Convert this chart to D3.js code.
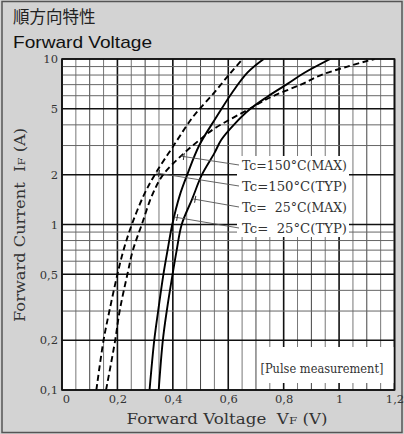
<!DOCTYPE html>
<html><head><meta charset="utf-8">
<script src="https://cdn.jsdelivr.net/npm/d3@7"></script>
<style>
html,body{margin:0;padding:0;background:#d3d3d3;}
svg{display:block;}
</style></head><body>
<svg id="c" width="404" height="434"></svg>
<script>
// ---- data ----
const xTickValues = [0, 0.2, 0.4, 0.6, 0.8, 1, 1.2];
const xTickLabels = ["0", "0,2", "0,4", "0,6", "0,8", "1", "1,2"];
const yTickValues = [0.1, 0.2, 0.5, 1, 2, 5, 10];
const yTickLabels = ["0,1", "0,2", "0,5", "1", "2", "5", "10"];

const seriesNames = ["Tc=150°C(MAX)", "Tc=150°C(TYP)", "Tc=  25°C(MAX)", "Tc=  25°C(TYP)"];
const seriesDashed = [true, true, false, false];

const i150max = [0.1, 0.2, 0.3, 0.5, 0.7, 1, 1.5, 2, 2.6, 3.25, 3.8, 4.95, 5.93, 7, 8, 9, 10];
const v150max = [0.159, 0.192, 0.208, 0.236, 0.256, 0.288, 0.325, 0.365, 0.43, 0.497, 0.55, 0.672, 0.758, 0.862, 0.935, 1.03, 1.128];

const i150typ = [0.1, 0.2, 0.3, 0.5, 0.7, 1, 1.5, 2, 3, 4.5, 6.2, 8.2, 10];
const v150typ = [0.124, 0.150, 0.171, 0.200, 0.222, 0.252, 0.295, 0.335, 0.403, 0.474, 0.547, 0.607, 0.652];

const i25max = [0.1, 0.2, 0.3, 0.5, 0.7, 1, 1.43, 2, 2.7, 3.25, 4, 5, 5.9, 7.1, 8.2, 10];
const v25max = [0.349, 0.364, 0.378, 0.399, 0.414, 0.432, 0.47, 0.505, 0.55, 0.575, 0.62, 0.68, 0.74, 0.815, 0.872, 0.968];

const i25typ = [0.1, 0.2, 0.3, 0.5, 0.7, 1, 1.5, 2, 3, 4.4, 6.3, 8.3, 10];
const v25typ = [0.316, 0.333, 0.347, 0.366, 0.381, 0.398, 0.425, 0.452, 0.495, 0.555, 0.615, 0.67, 0.728];

const seriesCurrents = [i150max, i150typ, i25max, i25typ];
const seriesVoltages = [v150max, v150typ, v25max, v25typ];
const pointerCurrents = [2.59, 2.05, 1.43, 1.11];

// ---- layout ----
const svg = d3.select("#c");
const X0 = 62, X1 = 394.5, Y0 = 59, Y1 = 390;
const x = d3.scaleLinear().domain([0, 1.2]).range([X0, X1]);
const y = d3.scaleLog().domain([0.1, 10]).range([Y1, Y0]);
const serif = "'DejaVu Serif', serif";

svg.append("rect").attr("x", 2).attr("y", 1.5).attr("width", 400).attr("height", 431)
  .attr("fill", "#d3d3d3").attr("stroke", "#555").attr("stroke-width", 1.5);

// titles
svg.append("text").attr("x", 13).attr("y", 23).text("順方向特性")
  .attr("font-family", "'Noto Sans CJK JP', sans-serif").attr("font-size", 16.5).attr("fill", "#222");
svg.append("text").attr("x", 13).attr("y", 48).text("Forward Voltage")
  .attr("font-family", "'Liberation Sans', Arial, sans-serif").attr("font-size", 17)
  .attr("textLength", 139).attr("lengthAdjust", "spacingAndGlyphs").attr("fill", "#111");

// plot background
svg.append("rect").attr("x", X0).attr("y", Y0).attr("width", X1 - X0).attr("height", Y1 - Y0).attr("fill", "#fff");

const grid = svg.append("g");
// vertical grid
d3.range(0, 25).forEach(k => {
  const v = k * 0.05;
  const major = k % 4 === 0, mid = k % 2 === 0;
  grid.append("line").attr("x1", x(v)).attr("x2", x(v)).attr("y1", Y0).attr("y2", Y1)
    .attr("stroke", major ? "#111" : (mid ? "#444" : "#777"))
    .attr("stroke-width", major ? 1.6 : 1);
});
// horizontal grid
const hVals = [];
[0.1, 1].forEach(d => { for (let k = 1; k <= 9; k++) hVals.push(d * k); });
hVals.push(10);
hVals.forEach(v => {
  const major = yTickValues.some(t => Math.abs(t - v) < 1e-9);
  grid.append("line").attr("x1", X0).attr("x2", X1).attr("y1", y(v)).attr("y2", y(v))
    .attr("stroke", major ? "#111" : "#666").attr("stroke-width", major ? 1.6 : 1);
});

// white label backgrounds
svg.append("rect").attr("x", 237).attr("y", 156).attr("width", 112).attr("height", 81).attr("fill", "#fff");
svg.append("rect").attr("x", 258).attr("y", 347).attr("width", X1 - 258).attr("height", 36).attr("fill", "#fff");

// curves
const clip = svg.append("clipPath").attr("id", "pc").append("rect")
  .attr("x", X0).attr("y", Y0).attr("width", X1 - X0).attr("height", Y1 - Y0);
const line = d3.line().x(d => x(d[0])).y(d => y(d[1])).curve(d3.curveCatmullRom.alpha(0.5));
const curves = svg.append("g").attr("clip-path", "url(#pc)");
seriesNames.forEach((n, i) => {
  const pts = seriesVoltages[i].map((v, j) => [v, seriesCurrents[i][j]]);
  curves.append("path").attr("d", line(pts)).attr("fill", "none").attr("stroke", "#000")
    .attr("stroke-width", 1.9).attr("stroke-dasharray", seriesDashed[i] ? "6,3.5" : null);
});

// plot frame
svg.append("rect").attr("x", X0).attr("y", Y0).attr("width", X1 - X0).attr("height", Y1 - Y0)
  .attr("fill", "none").attr("stroke", "#111").attr("stroke-width", 1.6);

// legend labels with pointers
const labelY = [166, 187, 208, 229];
function vAt(i, cur) {
  const I = seriesCurrents[i], V = seriesVoltages[i];
  for (let j = 0; j < I.length - 1; j++) {
    if (cur >= I[j] && cur <= I[j + 1]) {
      const t = (Math.log(cur) - Math.log(I[j])) / (Math.log(I[j + 1]) - Math.log(I[j]));
      return V[j] + t * (V[j + 1] - V[j]);
    }
  }
  return V[V.length - 1];
}
seriesNames.forEach((n, i) => {
  const px = x(vAt(i, pointerCurrents[i])), py = y(pointerCurrents[i]);
  const ex = 239, ey = labelY[i] - 1;
  svg.append("line").attr("x1", px).attr("y1", py).attr("x2", ex).attr("y2", ey)
    .attr("stroke", "#555").attr("stroke-width", 0.9);
  const ang = Math.atan2(ey - py, ex - px);
  const nx = -Math.sin(ang), ny = Math.cos(ang);
  svg.append("line").attr("x1", px + 3).attr("y1", py - 3.5).attr("x2", px + 3).attr("y2", py + 3.5)
    .attr("transform", `rotate(${ang * 180 / Math.PI},${px},${py})`)
    .attr("stroke", "#333").attr("stroke-width", 1);
  svg.append("text").attr("x", 242).attr("y", labelY[i]).attr("dy", "0.35em")
    .attr("font-family", serif).attr("font-size", 12.5).attr("fill", "#333")
    .attr("textLength", 105).attr("lengthAdjust", "spacingAndGlyphs")
    .style("white-space", "pre").text(n);
});

// pulse measurement
svg.append("text").attr("x", 322).attr("y", 369).attr("dy", "0.35em").attr("text-anchor", "middle")
  .attr("font-family", serif).attr("font-size", 12.5).attr("fill", "#333")
  .attr("textLength", 123).attr("lengthAdjust", "spacingAndGlyphs")
  .text("[Pulse measurement]");

// axes tick labels
const xAxis = d3.axisBottom(x).tickValues(xTickValues).tickFormat((d, i) => xTickLabels[i]).tickSize(0).tickPadding(5);
const gx = svg.append("g").attr("transform", `translate(0,${Y1})`).call(xAxis);
gx.select(".domain").remove();
gx.selectAll("text").attr("font-family", serif).attr("font-size", 11.5).attr("fill", "#333");
gx.selectAll(".tick").filter(d => d === 0).select("text").attr("dx", 4);

const yAxis = d3.axisLeft(y).tickValues(yTickValues).tickFormat((d, i) => yTickLabels[i]).tickSize(0).tickPadding(4);
const gy = svg.append("g").attr("transform", `translate(${X0},0)`).call(yAxis);
gy.select(".domain").remove();
gy.selectAll("text").attr("font-family", serif).attr("font-size", 11.5).attr("fill", "#333");

// axis titles
const xt = svg.append("text").attr("x", 227).attr("y", 424).attr("text-anchor", "middle")
  .attr("font-family", serif).attr("font-size", 14).attr("fill", "#333")
  .attr("textLength", 201).attr("lengthAdjust", "spacingAndGlyphs").style("white-space", "pre");
xt.append("tspan").text("Forward Voltage  V");
xt.append("tspan").attr("font-size", 10).text("F");
xt.append("tspan").text(" (V)");

const yt = svg.append("text").attr("transform", "translate(25,225) rotate(-90)").attr("text-anchor", "middle")
  .attr("font-family", serif).attr("font-size", 14).attr("fill", "#333")
  .attr("textLength", 194).attr("lengthAdjust", "spacingAndGlyphs").style("white-space", "pre");
yt.append("tspan").text("Forward Current  I");
yt.append("tspan").attr("font-size", 10).text("F");
yt.append("tspan").text(" (A)");
</script>
</body></html>
